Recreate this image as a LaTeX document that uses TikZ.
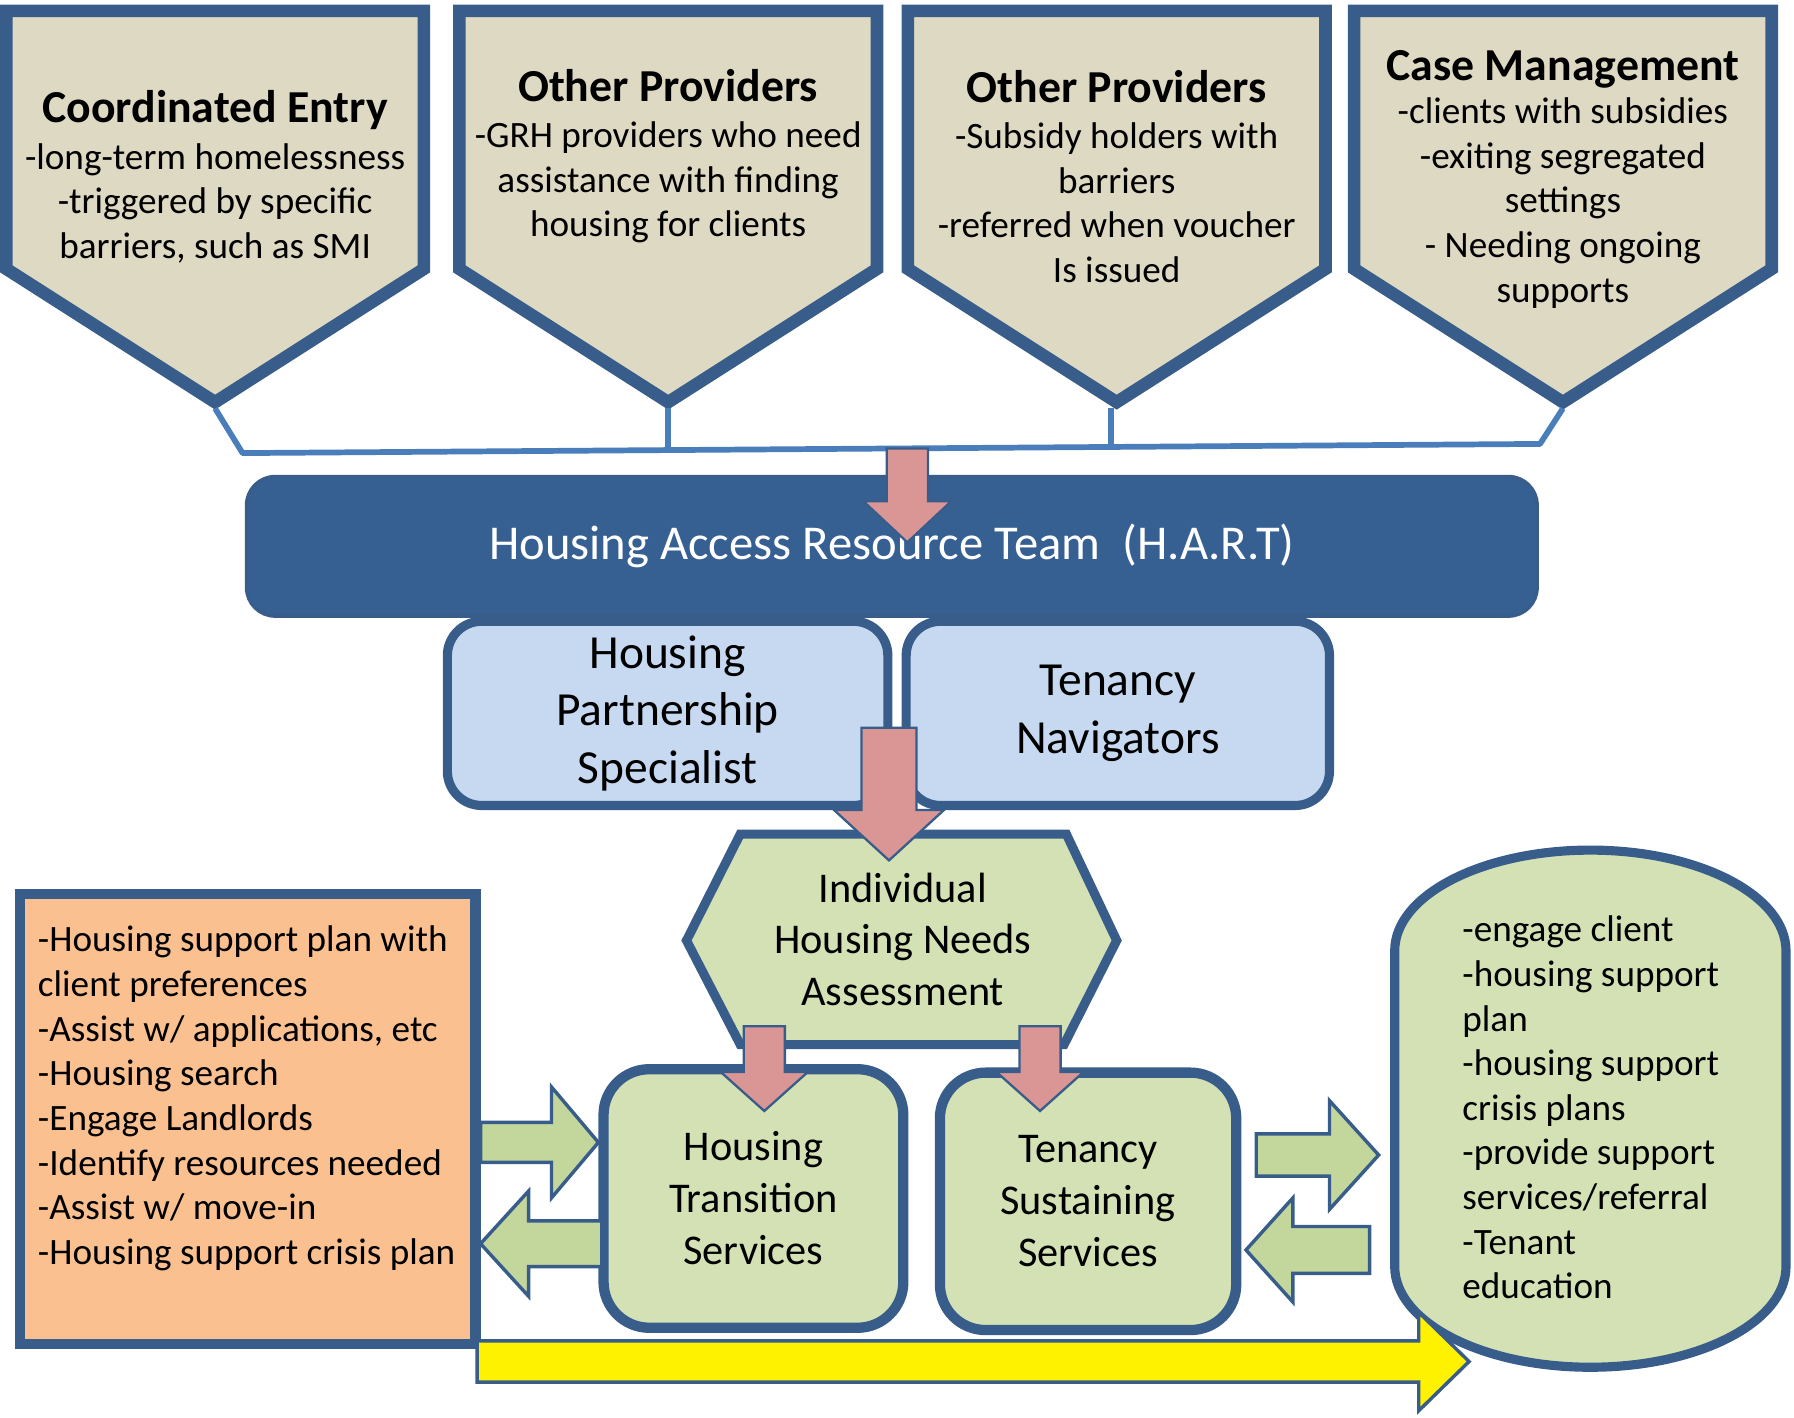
\documentclass[tikz,border=0pt]{standalone}
\usepackage{fontspec}
\setmainfont{Carlito}
\usetikzlibrary{arrows.meta,positioning}
\definecolor{navy}{HTML}{385D8A}
\definecolor{hart}{HTML}{376092}
\definecolor{tan}{HTML}{DDD9C3}
\definecolor{sky}{HTML}{C6D9F1}
\definecolor{sage}{HTML}{D3E1B5}
\definecolor{leaf}{HTML}{C3D69B}
\definecolor{rose}{HTML}{D99694}
\definecolor{peach}{HTML}{FAC090}
\definecolor{wire}{HTML}{4A7EBB}
\newcommand{\boxhead}[1]{{\fontsize{40}{46}\selectfont\bfseries #1}}

\begin{document}
\begin{tikzpicture}[x=1pt,y=-1pt,
  source/.style={draw=navy,line width=11pt,fill=tan},
  body/.style={font=\fontsize{32.5}{39}\selectfont,inner sep=0pt},
  staff/.style={draw=navy,line width=8pt,fill=sky,rounded corners=30pt,align=center,font=\fontsize{41.5}{50}\selectfont},
  service/.style={draw=navy,line width=9pt,fill=sage,rounded corners=40pt,align=center,font=\fontsize{37}{45.5}\selectfont},
  link/.style={wire,line width=5pt,line join=round}]
\useasboundingbox (0,0) rectangle (1568,1239);

% referral sources
\foreach \cx/\name in {188/ce,584/grh,976/sub,1366/cm}{
  \draw[source] (\cx-182.5,9.5) -- (\cx+182.5,9.5) -- (\cx+182.5,235) -- (\cx,351.5) -- (\cx-182.5,235) -- cycle;
  \coordinate (\name-tip) at (\cx,357);}
% text nodes sit on the baseline of their last line
\node[body,align=center,anchor=base] (ce) at (188,226) {\boxhead{Coordinated Entry}\\[2pt]
  -long-term homelessness\\ -triggered by specific\\ barriers, such as SMI};
\node[body,align=center,anchor=base] (grh) at (584,207) {\boxhead{Other Providers}\\[1pt]
  -GRH providers who need\\ assistance with finding\\ housing for clients};
\node[body,align=center,anchor=base] (sub) at (976,247) {\boxhead{Other Providers}\\[1pt]
  -Subsidy holders with\\ barriers\\ -referred when voucher\\ Is issued};
\node[body,align=center,anchor=base] (cm) at (1366,264) {\boxhead{Case Management}\\[-1pt]
  -clients with subsidies\\ -exiting segregated\\ settings\\ - Needing ongoing\\ supports};

% bar joining the sources
\coordinate (barL) at (212,396);
\coordinate (barR) at (1346,388);
\coordinate (grh-foot) at (584,393.4);
\coordinate (sub-foot) at (971,390.6);
\draw[link] (ce-tip) -- (barL) -- (barR) -- (cm-tip);
\draw[link] (grh-tip) -- (grh-foot);
\draw[link] (971,357) -- (sub-foot);

% H.A.R.T and its staff
\node[staff,minimum width=385pt,minimum height=161pt] (hps) at (583.5,623.5) {Housing\\Partnership\\Specialist};
\node[staff,minimum width=370pt,minimum height=161pt] (tn) at (977,623.5) {Tenancy\\Navigators};
\node[draw=navy,line width=3pt,fill=hart,rounded corners=25pt,minimum width=1128pt,minimum height=122pt,
  text=white,font=\fontsize{42.5}{50}\selectfont] (hart) at (779.5,477.5) {Housing Access Resource Team\ \ (H.A.R.T)};

% assessment
\draw[draw=navy,line width=8pt,fill=sage] (600,822) -- (647,729) -- (932,729) -- (976,822) -- (930,913) -- (647,913) -- cycle;
\node[align=center,font=\fontsize{37}{45}\selectfont] (ihna) at (789,821) {Individual\\Housing Needs\\Assessment};

% housing transition side
\node[draw=navy,line width=9pt,fill=peach,minimum width=398pt,minimum height=393pt] (plan) at (216.5,978) {};
\node[body,align=left,anchor=west] (plantext) at (33,960) {-Housing support plan with\\ client preferences\\
  -Assist w/ applications, etc\\ -Housing search\\ -Engage Landlords\\ -Identify resources needed\\
  -Assist w/ move-in\\ -Housing support crisis plan};
\node[service,minimum width=262pt,minimum height=226pt] (hts) at (658.5,1047.5) {Housing\\Transition\\Services};
\node[service,minimum width=259pt,minimum height=225pt] (tss) at (951,1050) {Tenancy\\Sustaining\\Services};

% tenancy sustaining side
\draw[draw=navy,line width=8pt,fill=sage] (1219,1107) -- (1219,831)
  arc[start angle=180,end angle=360,x radius=171,y radius=88] -- (1561,1107)
  arc[start angle=0,end angle=180,x radius=171,y radius=88] -- cycle;
\node[body,align=left,anchor=west] (support) at (1278,968) {-engage client\\ -housing support\\ plan\\
  -housing support\\ crisis plans\\ -provide support\\ services/referral\\ -Tenant\\ education};

% block arrows: tail, neck, tip, centre line, half shaft, half head
\foreach \xa/\xb/\xt/\cy/\sw/\hw in {420/482/523/998.5/17.5/48.5, 526/462/420/1087/20/46,
    1098/1162/1205/1009.5/18.5/47.5, 1197/1130/1089/1092.5/20.5/45.5}
  \draw[fill=leaf,draw=navy,line width=3pt] (\xa,\cy-\sw) -- (\xb,\cy-\sw) -- (\xb,\cy-\hw) -- (\xt,\cy)
    -- (\xb,\cy+\hw) -- (\xb,\cy+\sw) -- (\xa,\cy+\sw) -- cycle;
\draw[fill=yellow,draw=navy,line width=3pt] (417,1172) -- (1240,1172) -- (1240,1147) -- (1284,1190)
  -- (1240,1233) -- (1240,1208) -- (417,1208) -- cycle;
\foreach \cx/\top/\neck/\tip/\sw/\hw in {793/392/438/474/18/38.5, 777/636/708/752/24/48,
    668/897/937/971/18/38, 909/897/937/971/18/38}
  \draw[fill=rose,draw=navy,line width=2pt] (\cx-\sw,\top) -- (\cx+\sw,\top) -- (\cx+\sw,\neck) -- (\cx+\hw,\neck)
    -- (\cx,\tip) -- (\cx-\hw,\neck) -- (\cx-\sw,\neck) -- cycle;
\end{tikzpicture}
\end{document}
